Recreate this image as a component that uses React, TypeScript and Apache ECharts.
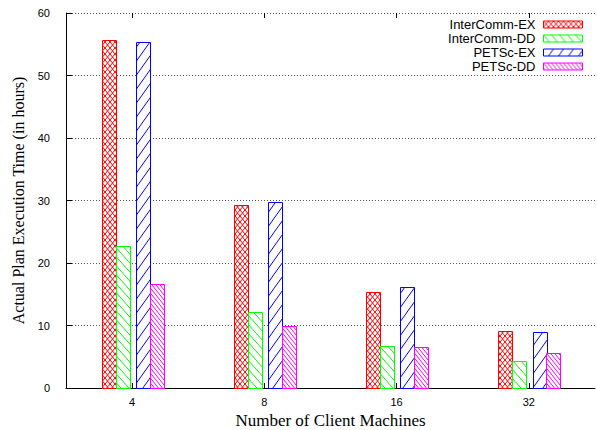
import React, { useEffect, useRef } from "react";
import * as echarts from "echarts";

const categories = ["4", "8", "16", "32"];
const seriesNames = ["InterComm-EX", "InterComm-DD", "PETSc-EX", "PETSc-DD"];
const interCommEX = [55.7, 29.3, 15.3, 9.2];
const interCommDD = [22.7, 12.1, 6.8, 4.3];
const petscEX = [55.3, 29.7, 16.1, 8.9];
const petscDD = [16.7, 10.0, 6.5, 5.6];
const yTicks = { min: 0, max: 60, interval: 10 };

const colors = ["#ff0000", "#00ff00", "#0000ff", "#ff00ff"];
const offsets = [-0.178, -0.072, 0.08, 0.185];
const barFrac = 0.105;

function makePattern(w: number, h: number, color: string, dirs: string[]) {
  const c = document.createElement("canvas");
  c.width = w;
  c.height = h;
  const ctx = c.getContext("2d")!;
  ctx.fillStyle = "#ffffff";
  ctx.fillRect(0, 0, w, h);
  ctx.strokeStyle = color;
  ctx.lineWidth = 1;
  for (const d of dirs) {
    for (let n = -1; n <= 1; n++) {
      ctx.beginPath();
      if (d === "/") {
        ctx.moveTo(n * w, h);
        ctx.lineTo(w + n * w, 0);
      } else {
        ctx.moveTo(n * w, 0);
        ctx.lineTo(w + n * w, h);
      }
      ctx.stroke();
    }
  }
  return { image: c, repeat: "repeat" };
}

export default function App() {
  const ref = useRef<HTMLDivElement>(null);
  useEffect(() => {
    document.body.style.margin = "0";
    const chart = echarts.init(ref.current!, undefined, { renderer: "svg" });
    const patterns = [
      makePattern(5, 6, colors[0], ["/", "\\"]),
      makePattern(8, 9, colors[1], ["\\"]),
      makePattern(10, 14, colors[2], ["/"]),
      makePattern(4, 5, colors[3], ["\\"]),
    ];
    const allData = [interCommEX, interCommDD, petscEX, petscDD];
    const series = allData.map((vals, si) => ({
      type: "custom",
      name: seriesNames[si],
      xAxisIndex: 0,
      yAxisIndex: 0,
      encode: { x: 0, y: 1 },
      data: vals.map((v, i) => [i, v]),
      itemStyle: { color: patterns[si] as any, borderColor: colors[si], borderWidth: 1 },
      renderItem: (params: any, api: any) => {
        const ci = api.value(0);
        const v = api.value(1);
        const base = api.coord([ci, 0]);
        const top = api.coord([ci, v]);
        const band = api.size([1, 0])[0];
        const w = band * barFrac;
        const cx = base[0] + offsets[si] * band;
        const x = Math.round(cx - w / 2) + 0.5;
        return {
          type: "rect",
          shape: { x, y: Math.round(top[1]) + 0.5, width: Math.round(w), height: Math.round(base[1]) - Math.round(top[1]) },
          style: { fill: patterns[si] as any, stroke: colors[si], lineWidth: 1 },
        };
      },
    }));
    chart.setOption({
      animation: false,
      backgroundColor: "#ffffff",
      grid: { left: 66, right: 2, top: 13, bottom: 42, outerBoundsMode: "none", containLabel: false },
      legend: {
        orient: "vertical",
        right: 14,
        top: 18,
        padding: 0,
        align: "right",
        itemWidth: 39,
        itemHeight: 7,
        itemGap: 1,
        icon: "rect",
        selectedMode: false,
        textStyle: { fontFamily: "Liberation Sans", fontSize: 13, color: "#000", padding: [0, 3, 0, 0] },
        data: seriesNames.map((n, i) => ({
          name: n,
          itemStyle: { color: patterns[i] as any, borderColor: colors[i], borderWidth: 1 },
        })),
      },
      xAxis: [
        {
          type: "category",
          data: categories,
          position: "bottom",
          name: "Number of Client Machines",
          nameLocation: "middle",
          nameGap: 24,
          nameTextStyle: { fontFamily: "Liberation Serif", fontSize: 17, color: "#000", lineHeight: 17 },
          axisLine: { show: true, lineStyle: { color: "#000", width: 1 } },
          axisTick: { show: true, inside: true, alignWithLabel: true, length: 5, lineStyle: { color: "#000" } },
          axisLabel: { fontFamily: "Liberation Sans", fontSize: 11, color: "#000", margin: 8 },
          splitLine: { show: false },
        },
        {
          type: "category",
          data: categories,
          position: "top",
          axisLine: { show: false },
          axisTick: { show: true, inside: true, alignWithLabel: true, length: 5, lineStyle: { color: "#000" } },
          axisLabel: { show: false },
          splitLine: { show: false },
        },
      ],
      yAxis: {
        type: "value",
        min: yTicks.min,
        max: yTicks.max,
        interval: yTicks.interval,
        name: "Actual Plan Execution Time (in hours)",
        nameLocation: "middle",
        nameGap: 40,
        nameTextStyle: { fontFamily: "Liberation Serif", fontSize: 16, color: "#000" },
        axisLine: { show: true, lineStyle: { color: "#000", width: 1 } },
        axisTick: { show: true, inside: true, length: 6, lineStyle: { color: "#000" } },
        axisLabel: { fontFamily: "Liberation Sans", fontSize: 11, color: "#000", margin: 16 },
        splitLine: { show: true, lineStyle: { color: "#555", width: 1, type: [1, 2] } },
      },
      series: series as any,
    });
    return () => chart.dispose();
  }, []);
  return <div ref={ref} style={{ width: 597, height: 430 }} />;
}
